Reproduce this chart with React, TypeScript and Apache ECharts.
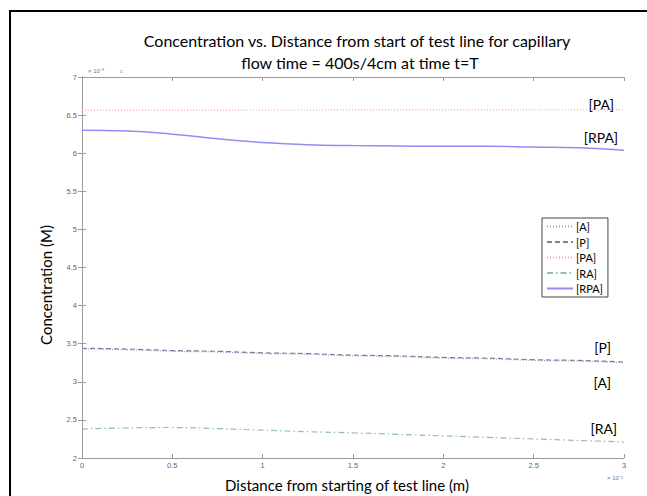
import React, { useEffect, useRef } from "react";
import * as echarts from "echarts";

const xs = [0, 0.25, 0.5, 0.75, 1, 1.25, 1.5, 1.75, 2, 2.25, 2.5, 2.75, 3];
const seriesA = [3.43, 3.42, 3.4, 3.39, 3.37, 3.36, 3.34, 3.33, 3.31, 3.3, 3.28, 3.27, 3.25];
const seriesP = [3.44, 3.43, 3.41, 3.4, 3.38, 3.37, 3.35, 3.34, 3.32, 3.31, 3.29, 3.28, 3.26];
const seriesPA = [6.565, 6.565, 6.565, 6.565, 6.567, 6.567, 6.568, 6.568, 6.568, 6.569, 6.57, 6.57, 6.572];
const seriesRA = [2.38, 2.395, 2.4, 2.385, 2.365, 2.345, 2.33, 2.31, 2.29, 2.27, 2.25, 2.23, 2.21];
const seriesRPA = [6.3, 6.29, 6.25, 6.19, 6.14, 6.11, 6.1, 6.095, 6.09, 6.09, 6.08, 6.07, 6.04];
const seriesNames = ["[A]", "[P]", "[PA]", "[RA]", "[RPA]"];

const titleLine1 = "Concentration vs. Distance from start of test line for capillary";
const titleLine2 = "flow time = 400s/4cm at time t=T";
const xTitle = "Distance from starting of test line (m)";
const yTitle = "Concentration (M)";

const FONT = "Lato, 'Open Sans', sans-serif";
const TICKFONT = "'Liberation Sans', Arial, sans-serif";

export default function App() {
  const ref = useRef<HTMLDivElement>(null);
  useEffect(() => {
    if (!ref.current) return;
    const chart = echarts.init(ref.current, undefined, { renderer: "svg" });
    const pair = (vals: number[]) => xs.map((x, i) => [x, vals[i]]);
    const axisCommon = {
      type: "value" as const,
      axisLine: { show: true, lineStyle: { color: "#9a9a9a", width: 1 } },
      axisTick: { show: true, inside: true, length: 4, lineStyle: { color: "#9a9a9a" } },
      splitLine: { show: false },
    };
    const labelStyle = { color: "#666", fontSize: 7.5, fontFamily: TICKFONT };
    chart.setOption({
      animation: false,
      backgroundColor: "#fff",
      grid: { left: 82, right: 23, top: 77, bottom: 38, containLabel: false },
      xAxis: [
        {
          ...axisCommon,
          min: 0, max: 3, interval: 0.5, position: "bottom",
          axisLabel: { ...labelStyle, margin: 3 },
        },
        {
          ...axisCommon,
          min: 0, max: 3, interval: 0.5, position: "top",
          axisLabel: { show: false },
        },
      ],
      yAxis: [
        {
          ...axisCommon,
          min: 2, max: 7, interval: 0.5, position: "left",
          axisLabel: { ...labelStyle, margin: 5 },
        },
        {
          ...axisCommon,
          min: 2, max: 7, interval: 0.5, position: "right",
          axisLabel: { show: false },
        },
      ],
      legend: {
        orient: "vertical",
        left: 542,
        top: 218,
        data: seriesNames,
        itemWidth: 26,
        itemHeight: 10,
        itemGap: 4.5,
        padding: [3, 5, 3, 4],
        borderColor: "#444",
        borderWidth: 1,
        backgroundColor: "#fff",
        itemStyle: { opacity: 0, borderWidth: 0 },
        textStyle: { fontSize: 11, color: "#000", fontFamily: FONT, padding: [0, 0, 0, -2] },
      },
      series: [
        {
          name: "[A]", type: "line", data: pair(seriesA), symbol: "none", smooth: true,
          lineStyle: { color: "#9b9bd6", width: 1.2, type: [1, 2] },
          itemStyle: { color: "#9b9bd6" },
        },
        {
          name: "[P]", type: "line", data: pair(seriesP), symbol: "none", smooth: true,
          lineStyle: { color: "#7e7e98", width: 1.2, type: [5, 3] },
          itemStyle: { color: "#7e7e98" },
        },
        {
          name: "[PA]", type: "line", data: pair(seriesPA), symbol: "none", smooth: true,
          lineStyle: { color: "#f2a394", width: 1.2, type: [1, 2] },
          itemStyle: { color: "#f2a394" },
        },
        {
          name: "[RA]", type: "line", data: pair(seriesRA), symbol: "none", smooth: true,
          lineStyle: { color: "#94bfae", width: 1.2, type: [6, 3, 1.5, 3] },
          itemStyle: { color: "#94bfae" },
        },
        {
          name: "[RPA]", type: "line", data: pair(seriesRPA), symbol: "none", smooth: true,
          lineStyle: { color: "#8f8ff5", width: 1.5, type: "solid" },
          itemStyle: { color: "#8f8ff5" },
        },
      ],
      graphic: [
        { type: "line", shape: { x1: 9, y1: 11, x2: 647, y2: 11 }, style: { stroke: "#000", lineWidth: 2 } },
        { type: "line", shape: { x1: 10, y1: 11, x2: 10, y2: 496 }, style: { stroke: "#000", lineWidth: 2 } },
        {
          type: "text", x: 357, y: 40,
          style: { text: titleLine1, fontSize: 16, fontFamily: FONT, fill: "#000", textAlign: "center", textVerticalAlign: "middle" },
        },
        {
          type: "text", x: 360, y: 62,
          style: { text: titleLine2, fontSize: 16, fontFamily: FONT, fill: "#000", textAlign: "center", textVerticalAlign: "middle" },
        },
        {
          type: "text", x: 347, y: 485,
          style: { text: xTitle, fontSize: 15, fontFamily: FONT, fill: "#000", textAlign: "center", textVerticalAlign: "middle" },
        },
        {
          type: "text", x: 46, y: 285, rotation: Math.PI / 2,
          style: { text: yTitle, fontSize: 15, fontFamily: FONT, fill: "#000", textAlign: "center", textVerticalAlign: "middle" },
        },
        {
          type: "text", x: 88, y: 71,
          style: { text: "× 10⁻⁸", fontSize: 6, fontFamily: TICKFONT, fill: "#777", textVerticalAlign: "middle" },
        },
        {
          type: "text", x: 120, y: 71,
          style: { text: "c", fontSize: 6, fontFamily: TICKFONT, fill: "#999", textVerticalAlign: "middle" },
        },
        {
          type: "text", x: 607, y: 478,
          style: { text: "× 10⁻³", fontSize: 6, fontFamily: TICKFONT, fill: "#777", textVerticalAlign: "middle" },
        },
        { type: "text", x: 614, y: 104, style: { text: "[PA]", fontSize: 14, fontFamily: FONT, fill: "#000", textAlign: "right", textVerticalAlign: "middle" } },
        { type: "text", x: 618, y: 137, style: { text: "[RPA]", fontSize: 14, fontFamily: FONT, fill: "#000", textAlign: "right", textVerticalAlign: "middle" } },
        { type: "text", x: 611, y: 347, style: { text: "[P]", fontSize: 14, fontFamily: FONT, fill: "#000", textAlign: "right", textVerticalAlign: "middle" } },
        { type: "text", x: 611, y: 382, style: { text: "[A]", fontSize: 14, fontFamily: FONT, fill: "#000", textAlign: "right", textVerticalAlign: "middle" } },
        { type: "text", x: 617, y: 428, style: { text: "[RA]", fontSize: 14, fontFamily: FONT, fill: "#000", textAlign: "right", textVerticalAlign: "middle" } },
      ],
    });
    return () => chart.dispose();
  }, []);
  return (
    <div
      ref={ref}
      style={{ position: "absolute", left: 0, top: 0, width: 647, height: 496, background: "#fff" }}
    />
  );
}
